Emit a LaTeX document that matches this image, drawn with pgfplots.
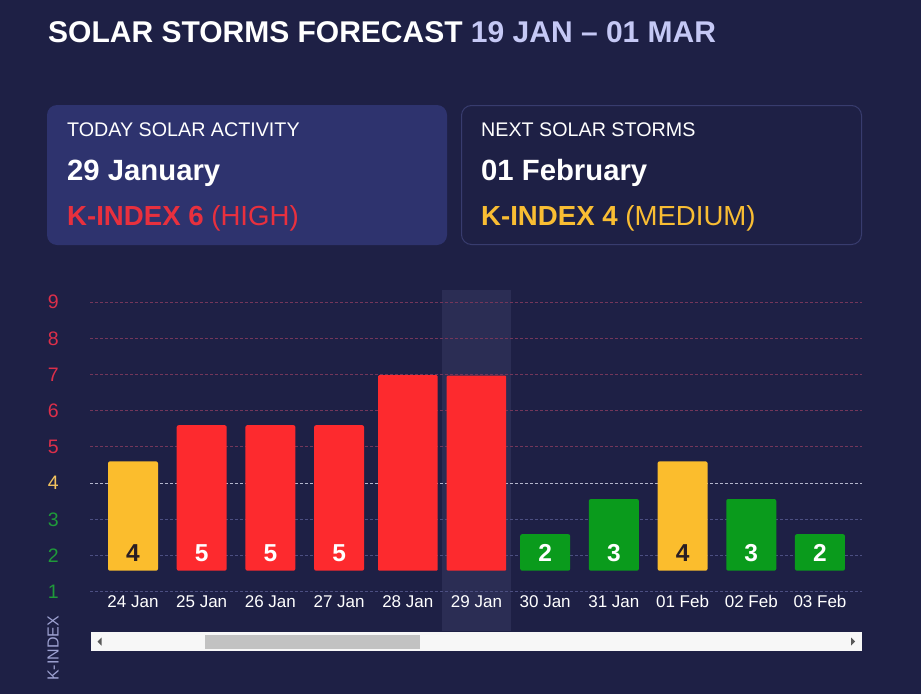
\documentclass[border=0pt]{standalone}
\usepackage{fontspec}
\setmainfont{Liberation Sans}
\usepackage{pgfplots}
\pgfplotsset{compat=1.18}
\usepackage{pgfplotstable}
\definecolor{bg}{HTML}{1E2045}
\definecolor{boxfill}{HTML}{2E336E}
\definecolor{boxline}{HTML}{383C6E}
\definecolor{titlelav}{HTML}{C5C8F5}
\definecolor{kred}{HTML}{FD2A2E}
\definecolor{kyellow}{HTML}{FBBD2D}
\definecolor{kgreen}{HTML}{0A9B1C}
\definecolor{tred}{HTML}{E8303E}
\definecolor{tyel}{HTML}{F9BD33}
\definecolor{ticred}{HTML}{DC2F4A}
\definecolor{ticyel}{HTML}{F2C25E}
\definecolor{ticgrn}{HTML}{1F9A3A}
\definecolor{gridred}{HTML}{74365A}
\definecolor{gridwhite}{HTML}{B4B6CC}
\definecolor{gridgray}{HTML}{4C4F82}
\definecolor{band}{HTML}{2B2D54}
\definecolor{labdark}{HTML}{2A1E24}
\definecolor{klab}{HTML}{9EA2D2}
\newcommand\fs[1]{\fontsize{#1bp}{#1bp}\selectfont}

\pgfplotstableread{
x base yel red redw grn
0 1.58 3.02 0 0 0
1 1.58 0 4.02 0 0
2 1.58 0 4.02 0 0
3 1.58 0 4.02 0 0
4 1.58 0 0 5.40 0
5 1.58 0 0 5.39 0
6 1.58 0 0 0 1.01
7 1.58 0 0 0 1.98
8 1.58 3.02 0 0 0
9 1.58 0 0 0 1.98
10 1.58 0 0 0 1.01
}\bars

\begin{document}
\begin{tikzpicture}
\useasboundingbox (0,0) rectangle (921bp,-694bp);
\fill[bg] (0,0) rectangle (921bp,-694bp);
% title
\node[anchor=base west, inner sep=0pt, font=\fs{30}\bfseries] at (48bp,-42.5bp)
  {\textcolor{white}{SOLAR STORMS FORECAST} \textcolor{titlelav}{19 JAN – 01 MAR}};
% boxes
\fill[boxfill, rounded corners=10bp] (47bp,-105bp) rectangle (447bp,-245bp);
\draw[boxline, line width=1bp, rounded corners=10bp] (461.5bp,-105.5bp) rectangle (861.5bp,-244.5bp);
\node[anchor=base west, inner sep=0pt, font=\fs{19.7}, text=white] at (67bp,-136bp) {TODAY SOLAR ACTIVITY};
\node[anchor=base west, inner sep=0pt, font=\fs{29.3}\bfseries, text=white] at (67bp,-180bp) {29 January};
\node[anchor=base west, inner sep=0pt, font=\fs{27.6}, text=tred] at (67bp,-225bp) {\textbf{K-INDEX 6} (HIGH)};
\node[anchor=base west, inner sep=0pt, font=\fs{19.7}, text=white] at (481bp,-136bp) {NEXT SOLAR STORMS};
\node[anchor=base west, inner sep=0pt, font=\fs{29.3}\bfseries, text=white] at (481bp,-180bp) {01 February};
\node[anchor=base west, inner sep=0pt, font=\fs{27.6}, text=tyel] at (481bp,-225bp) {\textbf{K-INDEX 4} (MEDIUM)};

% highlight band and grid (behind the bars)
\fill[band] (442.1bp,-290bp) rectangle (511bp,-631bp);
\foreach \yy in {302.1,338.3,374.5,410.7,446.9}
  \draw[gridred, line width=1bp, dash pattern=on 3bp off 2bp] (90bp,-\yy bp) -- (862bp,-\yy bp);
\draw[gridwhite, line width=1bp, dash pattern=on 3bp off 2bp] (90bp,-483.1bp) -- (862bp,-483.1bp);
\foreach \yy in {519.3,555.5,591.7}
  \draw[gridgray, line width=1bp, dash pattern=on 3bp off 2bp] (90bp,-\yy bp) -- (862bp,-\yy bp);

\begin{axis}[
  at={(90bp,-591.7bp)}, anchor=south west,
  scale only axis, width=772bp, height=301.7bp,
  xmin=-0.626, xmax=10.612, ymin=1, ymax=9.334,
  clip=false,
  axis line style={draw=none}, major tick length=0pt,
  ybar stacked, bar width=50bp,
  xtick={0,...,10},
  xticklabels={24 Jan,25 Jan,26 Jan,27 Jan,28 Jan,29 Jan,30 Jan,31 Jan,01 Feb,02 Feb,03 Feb},
  xticklabel style={font=\fs{17}, text=white, anchor=base, inner sep=0pt, yshift=-15.5bp},
  ytick={1,...,9},
  yticklabels={\textcolor{ticgrn}{1},\textcolor{ticgrn}{2},\textcolor{ticgrn}{3},\textcolor{ticyel}{4},\textcolor{ticred}{5},\textcolor{ticred}{6},\textcolor{ticred}{7},\textcolor{ticred}{8},\textcolor{ticred}{9}},
  yticklabel style={font=\fs{19.5}, anchor=east, inner sep=0pt, xshift=-31bp},
]
\addplot[draw=none, fill=none] table[x=x, y=base] {\bars};
\addplot[draw=none, fill=kyellow, rounded corners=2bp] table[x=x, y=yel] {\bars};
\addplot[draw=none, fill=kred, rounded corners=2bp] table[x=x, y=red] {\bars};
\addplot[draw=none, fill=kred, bar width=59.5bp, rounded corners=1bp] table[x=x, y=redw] {\bars};
\addplot[draw=none, fill=kgreen, rounded corners=2bp] table[x=x, y=grn] {\bars};
\end{axis}

\begin{axis}[
  at={(90bp,-591.7bp)}, anchor=south west,
  scale only axis, width=772bp, height=301.7bp,
  xmin=-0.626, xmax=10.612, ymin=1, ymax=9.334,
  hide axis, clip=false,
]
\addplot[draw=none, mark=none, nodes near coords, point meta=explicit symbolic,
  every node near coord/.append style={font=\fs{24.5}\bfseries, text=labdark, inner sep=0pt, anchor=center}]
  table[x=x, y=ly, meta=lab] {
x ly lab
0 2.07 4
8 2.07 4
};
\addplot[draw=none, mark=none, nodes near coords, point meta=explicit symbolic,
  every node near coord/.append style={font=\fs{24.5}\bfseries, text=white, inner sep=0pt, anchor=center}]
  table[x=x, y=ly, meta=lab] {
x ly lab
1 2.07 5
2 2.07 5
3 2.07 5
6 2.07 2
7 2.07 3
9 2.07 3
10 2.07 2
};
\end{axis}

% scrollbar
\fill[white!94!gray] (91bp,-632bp) rectangle (862bp,-651bp);
\fill[black!24] (205bp,-634.5bp) rectangle (420bp,-649bp);
\fill[black!65] (97.5bp,-641.5bp) -- (101.5bp,-637.5bp) -- (101.5bp,-645.5bp) -- cycle;
\fill[black!65] (855bp,-641.5bp) -- (851bp,-637.5bp) -- (851bp,-645.5bp) -- cycle;
% y label
\node[rotate=90, font=\fs{16}, text=klab, inner sep=0pt] at (53bp,-648.5bp) {K-INDEX};
\end{tikzpicture}
\end{document}
